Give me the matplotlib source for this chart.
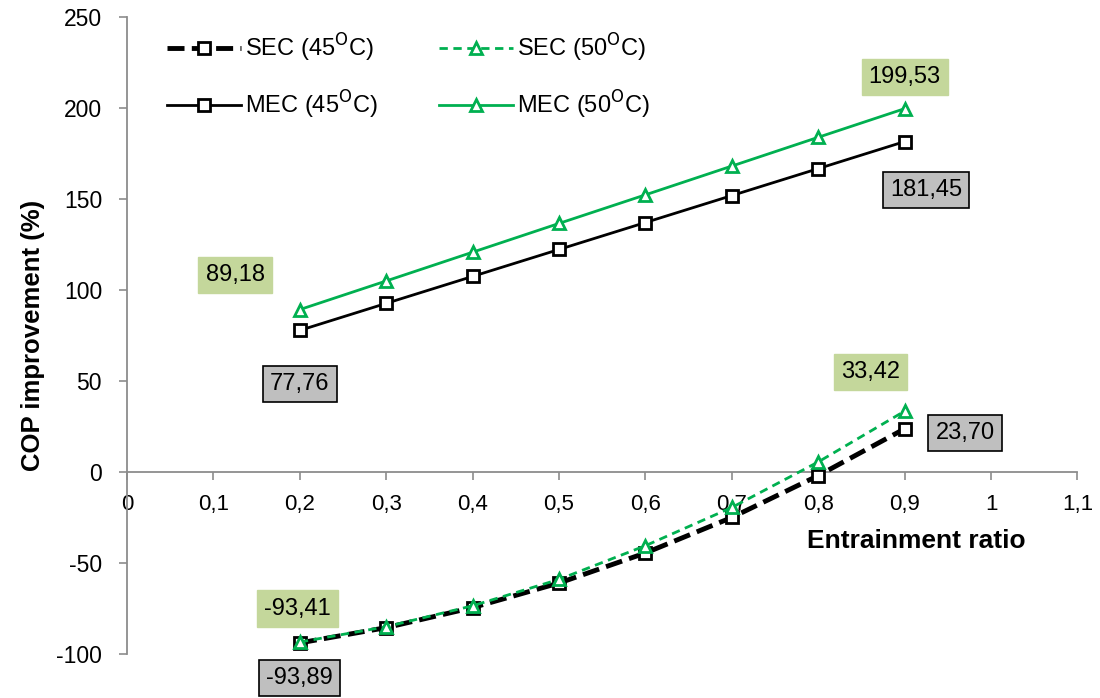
import matplotlib.pyplot as plt
from matplotlib.ticker import FuncFormatter, MultipleLocator

# ==========================
# DATA
# ==========================

ratio = [0.2, 0.3, 0.4, 0.5, 0.6, 0.7, 0.8, 0.9]

sec_45 = [-93.89, -85.5, -74.5, -61.0, -44.5, -25.0, -2.0, 23.70]
sec_50 = [-93.41, -85.0, -73.5, -59.0, -40.5, -19.5, 5.5, 33.42]
mec_45 = [77.76, 92.6, 107.4, 122.2, 137.0, 151.8, 166.6, 181.45]
mec_50 = [89.18, 104.9, 120.7, 136.5, 152.2, 168.0, 183.8, 199.53]

GREEN = "#00b050"
GREEN_BOX = "#c4d79b"
GREY_BOX = "#bfbfbf"
AXIS_GREY = "#8c8c8c"
FONT = ["Liberation Sans", "DejaVu Sans"]

plt.rcParams['font.family'] = FONT


def comma(v, pos=None):
    s = "%g" % round(v, 2)
    return s.replace(".", ",")


def value_text(v):
    return ("%.2f" % v).replace(".", ",")


# ==========================
# FIGURE
# ==========================

fig = plt.figure(figsize=(11, 6.98), dpi=100)
ax = fig.add_axes([0.1155, 0.063, 0.864, 0.913])

l_sec45, = ax.plot(ratio, sec_45, color="black", ls="--", lw=3.5, marker="s", ms=8,
                   mfc="white", mec="black", mew=2, label="SEC (45$^{\\mathrm{O}}$C)",
                   dashes=(3.5, 1.5), zorder=3)
l_sec50, = ax.plot(ratio, sec_50, color=GREEN, ls="--", lw=2, marker="^", ms=8,
                   mfc="white", mec=GREEN, mew=2, label="SEC (50$^{\\mathrm{O}}$C)",
                   dashes=(3, 2), zorder=4)
l_mec45, = ax.plot(ratio, mec_45, color="black", ls="-", lw=2, marker="s", ms=8,
                   mfc="white", mec="black", mew=2, label="MEC (45$^{\\mathrm{O}}$C)",
                   zorder=3)
l_mec50, = ax.plot(ratio, mec_50, color=GREEN, ls="-", lw=2, marker="^", ms=8,
                   mfc="white", mec=GREEN, mew=2, label="MEC (50$^{\\mathrm{O}}$C)",
                   zorder=4)

ax.set_xlim(0, 1.1)
ax.set_ylim(-100, 250)
ax.xaxis.set_major_locator(MultipleLocator(0.1))
ax.yaxis.set_major_locator(MultipleLocator(50))
ax.xaxis.set_major_formatter(FuncFormatter(comma))
ax.yaxis.set_major_formatter(FuncFormatter(comma))

ax.spines["top"].set_visible(False)
ax.spines["right"].set_visible(False)
ax.spines["bottom"].set_position(("data", 0))
for s in ["left", "bottom"]:
    ax.spines[s].set_color(AXIS_GREY)
    ax.spines[s].set_linewidth(1.3)

ax.tick_params(axis="both", colors=AXIS_GREY, length=6, width=1.2)
ax.tick_params(axis="x", labelcolor="black", pad=10, labelsize=16)
ax.tick_params(axis="y", labelcolor="black", pad=12, labelsize=16.5)

ax.set_ylabel("COP improvement (%)", fontsize=18.5, fontweight="bold",
              labelpad=8)
ax.text(0.913, -38, "Entrainment ratio", fontsize=19, fontweight="bold",
        ha="center", va="center")

# ==========================
# VALUE LABELS
# ==========================

green_box = dict(boxstyle="square,pad=0.3", fc=GREEN_BOX, ec=GREEN_BOX)
grey_box = dict(boxstyle="square,pad=0.3", fc=GREY_BOX, ec="black", lw=1.2)
lbl = dict(fontsize=17, ha="center", va="center", clip_on=False, zorder=5)

ax.text(0.9, 217, value_text(mec_50[-1]), bbox=green_box, **lbl)
ax.text(0.925, 155, value_text(mec_45[-1]), bbox=grey_box, **lbl)
ax.text(0.125, 108, value_text(mec_50[0]), bbox=green_box, **lbl)
ax.text(0.2, 48.5, value_text(mec_45[0]), bbox=grey_box, **lbl)
ax.text(0.86, 55, value_text(sec_50[-1]), bbox=green_box, **lbl)
ax.text(0.97, 21.5, value_text(sec_45[-1]), bbox=grey_box, **lbl)
ax.text(0.197, -75, value_text(sec_50[0]), bbox=green_box, **lbl)
ax.text(0.2, -113, value_text(sec_45[0]), bbox=grey_box, **lbl)

# ==========================
# LEGEND
# ==========================

ax.legend(handles=[l_sec45, l_mec45, l_sec50, l_mec50],
          loc="upper left", bbox_to_anchor=(0.02, 1.01), ncol=2,
          frameon=False, handlelength=3.1, labelspacing=1.05,
          columnspacing=2.6, handletextpad=0.2,
          prop={"size": 17})

fig.savefig("out.png", dpi=100)
